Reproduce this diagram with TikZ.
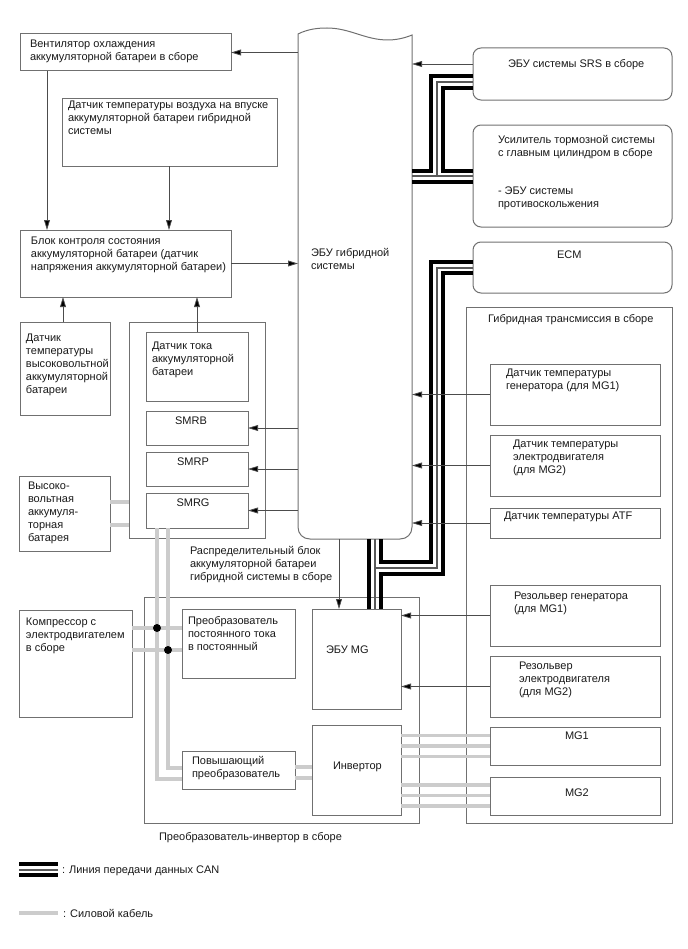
\documentclass[tikz,border=0pt]{standalone}
\usepackage{fontspec}
\setmainfont{Liberation Sans}
\usetikzlibrary{arrows.meta}
\definecolor{edge}{HTML}{707070}
\definecolor{cable}{HTML}{CCCCCC}
\tikzset{
  box/.style={draw=edge,line width=0.75pt,inner sep=0pt,outer sep=0pt,anchor=north west},
  softbox/.style={box,rounded corners=6pt},
  frameless/.style={inner sep=0pt,outer sep=0pt,anchor=north west},
  lbl/.style={inner sep=0pt,outer sep=0pt,anchor=north west,align=left,text=black!90,yshift=-0.9pt,
    font=\fontsize{8.25}{9.75}\selectfont},
  clbl/.style={lbl,anchor=north,align=center},
  sig/.style={draw=black!70,line width=0.6pt,-{Triangle[length=7.5pt,width=4.4pt,fill=black]}},
  power/.style={draw=cable,line width=2.7pt},
  canthick/.style={draw=black,line width=3.3pt,miter limit=10},
  canthin/.style={draw=black!65,line width=1pt},
  joint/.style={circle,fill=black,inner sep=0pt,minimum size=6pt}
}
% Box from its corners, given in drawing units
\newcommand{\bx}[6][box]{\node[#1,minimum width={0.75pt*(#5-#3)},minimum height={0.75pt*(#6-#4)}] (#2) at (#3,#4) {};}
\begin{document}
\begin{tikzpicture}[x=0.75pt,y=-0.75pt]
\useasboundingbox (0,0) rectangle (688,949);

% Enclosing assemblies
\bx{pack}{129}{322}{265}{538}
\bx{pcu}{144}{597}{419}{823}
\bx{trans}{466}{307}{672}{823}

% Hybrid control unit: anchors for connectors, outline drawn by hand
\bx[frameless]{ebu}{298}{28}{412}{539}
\draw[edge,line width=0.75pt]
  (298,34) .. controls (308,29) and (318,28) .. (327,28)
  .. controls (350,28) and (365,40) .. (388,40)
  .. controls (396,40) and (405,38) .. (412,35)
  -- (412,527) .. controls (412,534) and (407,539) .. (400,539)
  -- (310,539) .. controls (303,539) and (298,534) .. (298,527) -- cycle;

% Battery side
\bx{fan}{20}{34}{231}{71}
\bx{airsens}{62}{98}{277}{166}
\bx{monitor}{20}{230}{231}{297}
\bx{hvtemp}{20}{322}{110}{415}
\bx{hvbat}{19}{476}{110}{551}
\bx{cursens}{146}{332}{248}{401}

% Power cabling sits below the unit boxes
\coordinate (j1) at (157,628);
\coordinate (j2) at (168,650);
\draw[power] (hvbat.east |- 0,502) -- (pack.west |- 0,502);
\draw[power] (hvbat.east |- 0,525) -- (pack.west |- 0,525);
\bx[box,fill=white]{smrb}{146}{411}{248}{445}
\bx[box,fill=white]{smrp}{146}{452}{248}{486}
\bx[box,fill=white]{smrg}{146}{493}{248}{528}
\bx{comp}{19}{610}{132}{717}
\bx{dcdc}{182}{609}{295}{678}
\bx{boost}{182}{751}{295}{789}
\bx{inv}{312}{725}{401}{815}
\bx{mgecu}{312}{609}{401}{709}
\draw[power] (157,0 |- smrg.south) -- (157,779) -- (boost.west |- 0,779);
\draw[power] (168,0 |- smrg.south) -- (168,768) -- (boost.west |- 0,768);
\draw[power] (comp.east |- j1) -- (dcdc.west |- j1);
\draw[power] (comp.east |- j2) -- (dcdc.west |- j2);
\node[joint] (dot1) at (j1) {};
\node[joint] (dot2) at (j2) {};
\draw[power] (boost.east |- 0,767) -- (inv.west |- 0,767);
\draw[power] (boost.east |- 0,778) -- (inv.west |- 0,778);

% Transmission and other right-hand units
\bx[softbox]{srs}{473}{48}{672}{100}
\bx[softbox]{brake}{473}{125}{672}{227}
\bx[softbox]{ecm}{473}{242}{672}{293}
\bx{gensens}{490}{364}{660}{425}
\bx{motsens}{490}{435}{660}{496}
\bx{atf}{490}{508}{660}{538}
\bx{genres}{490}{585}{660}{646}
\bx{motres}{490}{656}{660}{717}
\bx{mgone}{490}{727}{660}{765}
\bx{mgtwo}{490}{777}{660}{815}
\foreach \yy in {735.5,746,756.5}{\draw[power] (inv.east |- 0,\yy) -- (mgone.west |- 0,\yy);}
\foreach \yy in {785,795.5,806}{\draw[power] (inv.east |- 0,\yy) -- (mgtwo.west |- 0,\yy);}

% CAN bus: SRS and brake units
\draw[canthick] (srs.west |- 0,76) -- (431,76) -- (431,171) -- (ebu.east |- 0,171);
\draw[canthick] (srs.west |- 0,88) -- (443,88) -- (443,171) -- (brake.west |- 0,171);
\draw[canthick] (ebu.east |- 0,182) -- (brake.west |- 0,182);
\draw[canthin] (srs.west |- 0,82) -- (437,82) -- (437,176);
\draw[canthin] (ebu.east |- 0,176) -- (brake.west |- 0,176);

% CAN bus: ECM and MG control unit
\draw[canthick] (ecm.west |- 0,262) -- (431,262) -- (431,562) -- (381,562) -- (381,0 |- ebu.south);
\draw[canthick] (ecm.west |- 0,273) -- (443,273) -- (443,574) -- (381,574) -- (381,0 |- mgecu.north);
\draw[canthick] (369,0 |- ebu.south) -- (369,0 |- mgecu.north);
\draw[canthin] (ecm.west |- 0,268) -- (437,268) -- (437,568) -- (375,568);
\draw[canthin] (375,0 |- ebu.south) -- (375,0 |- mgecu.north);

% Signal lines
\draw[sig] (ebu.west |- fan.east) -- (fan.east);
\draw[sig] (srs.west |- 0,64) -- (ebu.east |- 0,64);
\draw[sig] (47,0 |- fan.south) -- (47,0 |- monitor.north);
\draw[sig] (airsens.south -| 169,0) -- (monitor.north -| 169,0);
\draw[sig] (monitor.east) -- (ebu.west |- monitor.east);
\draw[sig] (63,0 |- hvtemp.north) -- (63,0 |- monitor.south);
\draw[sig] (cursens.north) -- (cursens.north |- monitor.south);
\draw[sig] (ebu.west |- smrb.east) -- (smrb.east);
\draw[sig] (ebu.west |- smrp.east) -- (smrp.east);
\draw[sig] (ebu.west |- smrg.east) -- (smrg.east);
\draw[sig] (gensens.west) -- (ebu.east |- gensens.west);
\draw[sig] (motsens.west) -- (ebu.east |- motsens.west);
\draw[sig] (atf.west) -- (ebu.east |- atf.west);
\draw[sig] (339,0 |- ebu.south) -- (339,0 |- mgecu.north);
\draw[sig] (genres.west) -- (mgecu.east |- genres.west);
\draw[sig] (motres.west) -- (mgecu.east |- motres.west);

% Labels
\node[lbl] (t-fan) at (30,39) {Вентилятор охлаждения\\аккумуляторной батареи в сборе};
\node[lbl] (t-air) at (68,100) {Датчик температуры воздуха на впуске\\аккумуляторной батареи гибридной\\системы};
\node[lbl] (t-mon) at (31,236) {Блок контроля состояния\\аккумуляторной батареи (датчик\\напряжения аккумуляторной батареи)};
\node[lbl] (t-hvt) at (26,333) {Датчик\\температуры\\высоковольтной\\аккумуляторной\\батареи};
\node[lbl] (t-cur) at (152,341) {Датчик тока\\аккумуляторной\\батареи};
\node[clbl] (t-smrb) at (191,415.5) {SMRB};
\node[clbl] (t-smrp) at (193,456.5) {SMRP};
\node[clbl] (t-smrg) at (193,497.5) {SMRG};
\node[lbl] (t-bat) at (28,481) {Высоко-\\вольтная\\аккумуля-\\торная\\батарея};
\node[lbl] (t-pack) at (190,545) {Распределительный блок\\аккумуляторной батареи\\гибридной системы в сборе};
\node[lbl] (t-comp) at (26,617) {Компрессор с\\электродвигателем\\в сборе};
\node[lbl] (t-dc) at (188,615) {Преобразователь\\постоянного тока\\в постоянный};
\node[lbl] (t-mg) at (326,645) {ЭБУ MG};
\node[lbl] (t-boost) at (192,755) {Повышающий\\преобразователь};
\node[lbl] (t-inv) at (333,761) {Инвертор};
\node[lbl] (t-pcu) at (159,831) {Преобразователь-инвертор в сборе};
\node[lbl] (t-ebu) at (311,247) {ЭБУ гибридной\\системы};
\node[lbl] (t-srs) at (508,58) {ЭБУ системы SRS в сборе};
\node[lbl] (t-brk) at (498,134) {Усилитель тормозной системы\\с главным цилиндром в сборе};
\node[lbl] (t-abs) at (498,186) {- ЭБУ системы\\противоскольжения};
\node[lbl] (t-ecm) at (557,250) {ECM};
\node[lbl] (t-tr) at (488,313) {Гибридная трансмиссия в сборе};
\node[lbl] (t-gs) at (506,368) {Датчик температуры\\генератора (для MG1)};
\node[lbl] (t-ms) at (513,439) {Датчик температуры\\электродвигателя\\(для MG2)};
\node[lbl] (t-atf) at (504,511) {Датчик температуры ATF};
\node[lbl] (t-gr) at (514,591) {Резольвер генератора\\(для MG1)};
\node[lbl] (t-mr) at (519,661) {Резольвер\\электродвигателя\\(для MG2)};
\node[lbl] (t-m1) at (565,731) {MG1};
\node[lbl] (t-m2) at (565,788) {MG2};

% Key
\coordinate (ka) at (19,864);
\coordinate (kb) at (58,864);
\draw[canthick] (ka) -- (kb);
\draw[canthin] (19,870) -- (58,870);
\draw[canthick] (19,875) -- (58,875);
\draw[power] (19,913) -- (58,913);
\node[lbl] (t-k1) at (62,865) {: Линия передачи данных CAN};
\node[lbl] (t-k2) at (63,908) {: Силовой кабель};
\end{tikzpicture}
\end{document}
